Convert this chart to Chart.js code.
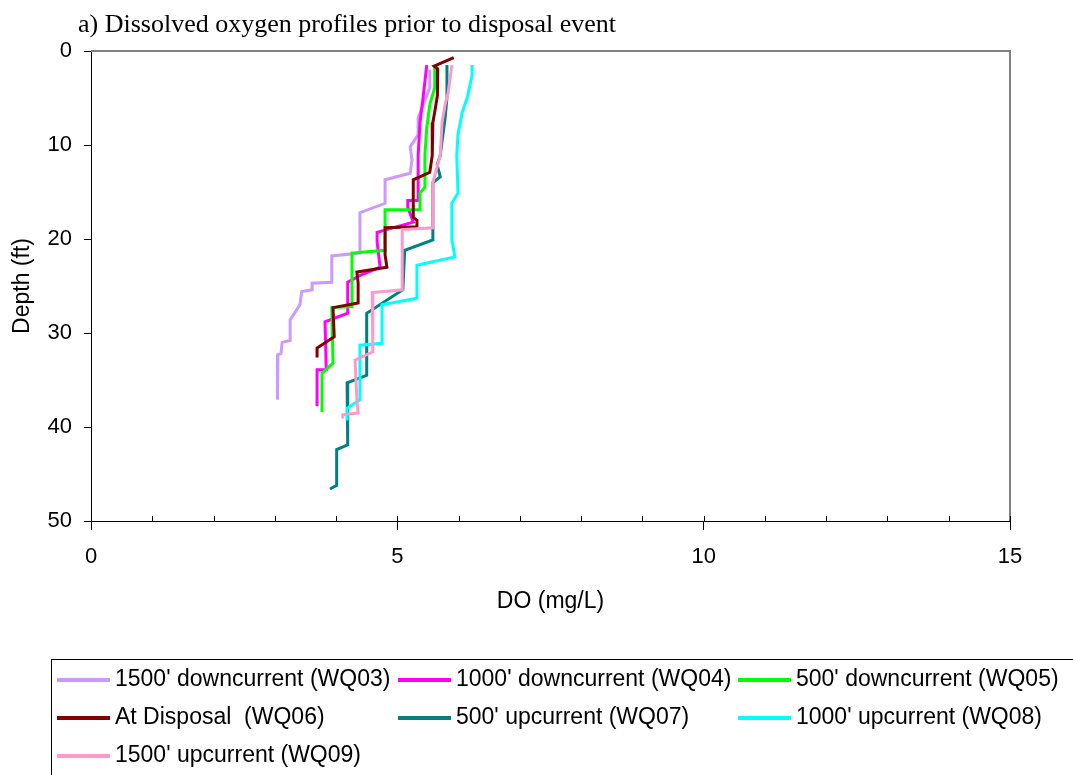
<!DOCTYPE html>
<html>
<head>
<meta charset="utf-8">
<title>Dissolved oxygen profiles</title>
<script src="https://cdn.jsdelivr.net/npm/chart.js@4/dist/chart.umd.min.js"></script>
<style>
  html, body { margin: 0; padding: 0; background: #fff; }
  #wrap { width: 1073px; height: 775px; }
</style>
</head>
<body>
<div id="wrap"><canvas id="do-chart" width="1073" height="775"></canvas></div>
<script>
// Eixos
const xTicks = [0, 5, 10, 15];
const yTicks = [0, 10, 20, 30, 40, 50];

// Perfis: DO (mg/L) e profundidade (ft)
const wq03Do    = [5.53, 5.53, 5.34, 5.34, 5.21, 5.24, 5.21, 4.80, 4.80, 4.39, 4.39, 3.93, 3.93, 3.61, 3.61, 3.44, 3.41, 3.25, 3.25, 3.12, 3.10, 3.05, 3.05, 3.04, 3.04];
const wq03Depth = [2.0, 3.9, 7.1, 8.9, 10.2, 11.6, 13.0, 13.7, 16.2, 17.2, 21.5, 21.8, 24.6, 24.7, 25.4, 25.6, 27.0, 28.6, 30.8, 31.0, 32.2, 32.3, 35.0, 35.2, 37.1];

const wq04Do    = [5.48, 5.42, 5.37, 5.34, 5.34, 5.17, 5.17, 5.26, 4.67, 4.67, 4.72, 4.42, 4.19, 4.19, 3.82, 3.84, 3.69, 3.69];
const wq04Depth = [1.5, 5.0, 7.6, 11.1, 15.9, 15.9, 16.6, 18.2, 19.3, 20.3, 23.0, 23.8, 24.6, 27.9, 28.8, 33.9, 33.9, 37.8];

const wq05Do    = [5.61, 5.61, 5.53, 5.48, 5.45, 5.45, 5.37, 5.37, 4.80, 4.80, 4.26, 4.26, 3.93, 3.95, 3.77, 3.77];
const wq05Depth = [1.7, 3.9, 5.7, 8.2, 11.1, 14.5, 15.1, 16.9, 16.9, 21.2, 21.5, 27.2, 27.3, 33.2, 34.3, 38.4];

const wq06Do    = [5.92, 5.60, 5.66, 5.66, 5.65, 5.61, 5.58, 5.57, 5.53, 5.26, 5.26, 5.32, 5.32, 4.80, 4.80, 4.83, 4.34, 4.36, 4.36, 3.95, 3.97, 3.69, 3.69];
const wq06Depth = [0.7, 1.6, 1.9, 3.9, 4.7, 6.5, 7.6, 11.1, 12.9, 13.7, 17.7, 18.0, 18.7, 18.8, 21.7, 23.0, 23.5, 24.7, 26.8, 27.3, 30.4, 31.6, 32.6];

const wq07Do    = [5.81, 5.81, 5.78, 5.70, 5.65, 5.70, 5.58, 5.58, 5.12, 5.09, 4.50, 4.50, 4.18, 4.19, 4.01, 4.01, 3.90];
const wq07Depth = [1.5, 5.0, 7.1, 11.1, 12.1, 13.4, 14.0, 20.1, 21.2, 25.4, 27.9, 34.5, 35.3, 41.9, 42.4, 46.2, 46.6];

const wq08Do    = [6.22, 6.22, 6.14, 6.06, 5.99, 5.97, 5.99, 5.89, 5.89, 5.94, 5.32, 5.32, 4.75, 4.75, 4.39, 4.39, 4.18, 4.18];
const wq08Depth = [1.5, 2.6, 5.0, 6.5, 8.9, 11.1, 15.1, 16.2, 20.1, 21.9, 22.8, 26.3, 27.0, 31.1, 31.3, 37.1, 38.0, 39.3];

const wq09Do    = [5.89, 5.83, 5.78, 5.73, 5.70, 5.65, 5.58, 5.58, 5.08, 5.08, 4.59, 4.60, 4.31, 4.34, 4.36, 4.11, 4.11];
const wq09Depth = [1.5, 4.4, 5.7, 7.6, 11.1, 12.3, 14.0, 18.8, 19.0, 25.4, 25.7, 32.0, 32.9, 37.1, 38.5, 38.7, 39.1];

const seriesNames = [
  "1500' downcurrent (WQ03)", "1000' downcurrent (WQ04)", "500' downcurrent (WQ05)",
  "At Disposal  (WQ06)", "500' upcurrent (WQ07)", "1000' upcurrent (WQ08)",
  "1500' upcurrent (WQ09)"
];
const seriesColors = ['#CC99FF', '#FF00FF', '#00FF00', '#800000', '#008080', '#00FFFF', '#FF99CC'];
const profiles = [
  [wq03Do, wq03Depth], [wq04Do, wq04Depth], [wq05Do, wq05Depth], [wq06Do, wq06Depth],
  [wq07Do, wq07Depth], [wq08Do, wq08Depth], [wq09Do, wq09Depth]
];

const SANS = '"Liberation Sans", Arial, sans-serif';
const SERIF = '"Liberation Serif", "Times New Roman", serif';

const datasets = profiles.map(([dox, dep], i) => ({
  label: seriesNames[i],
  data: dox.map((v, k) => ({ x: v, y: dep[k] })),
  borderColor: seriesColors[i],
  backgroundColor: seriesColors[i],
  borderWidth: 3,
  pointRadius: 0,
  showLine: true,
  tension: 0,
  order: -i // a última série fica por cima, como no Excel
}));

// Moldura, marcas menores, título e legenda
const decor = {
  id: 'decor',
  beforeDatasetsDraw(chart) {
    const { ctx, chartArea: a } = chart;
    ctx.save();
    ctx.strokeStyle = '#808080';
    ctx.lineWidth = 2;
    ctx.beginPath();
    ctx.moveTo(a.left, a.top);
    ctx.lineTo(a.right, a.top);
    ctx.lineTo(a.right, a.bottom);
    ctx.stroke();
    ctx.restore();
  },
  afterDraw(chart) {
    const { ctx, chartArea: a } = chart;
    const xs = chart.scales.x;
    ctx.save();
    // marcas internas a cada 1 mg/L
    ctx.strokeStyle = '#000';
    ctx.lineWidth = 1;
    for (let v = xs.min; v <= xs.max; v++) {
      const px = Math.round(xs.getPixelForValue(v)) + 0.5;
      ctx.beginPath();
      ctx.moveTo(px, a.bottom - 5);
      ctx.lineTo(px, a.bottom);
      ctx.stroke();
    }
    // título
    ctx.fillStyle = '#000';
    ctx.font = '26px ' + SERIF;
    ctx.textBaseline = 'alphabetic';
    ctx.textAlign = 'left';
    ctx.fillText('a) Dissolved oxygen profiles prior to disposal event', 78, 32);
    // legenda
    ctx.strokeStyle = '#000';
    ctx.strokeRect(51.5, 659.5, 1100, 200);
    const colX = [57, 398, 738];
    ctx.font = '23px ' + SANS;
    ctx.textBaseline = 'middle';
    chart.data.datasets.forEach((ds, i) => {
      const x = colX[i % 3];
      const y = 680 + Math.floor(i / 3) * 38;
      ctx.strokeStyle = ds.borderColor;
      ctx.lineWidth = 4;
      ctx.beginPath();
      ctx.moveTo(x, y);
      ctx.lineTo(x + 53, y);
      ctx.stroke();
      ctx.fillStyle = '#000';
      ctx.fillText(ds.label, x + 58, y);
    });
    ctx.restore();
  }
};

new Chart(document.getElementById('do-chart'), {
  type: 'scatter',
  data: { datasets },
  options: {
    responsive: false,
    animation: false,
    layout: { padding: { top: 51, right: 63, bottom: 160, left: 0 } },
    plugins: { legend: { display: false }, tooltip: { enabled: false } },
    scales: {
      x: {
        type: 'linear', min: 0, max: 15,
        afterBuildTicks: s => { s.ticks = xTicks.map(v => ({ value: v })); },
        afterFit: s => { s.height = 94; },
        ticks: { color: '#000', font: { family: SANS, size: 22 }, padding: 14, maxRotation: 0 },
        grid: { drawOnChartArea: false, tickLength: 9, color: '#000' },
        border: { color: '#000', width: 1 },
        title: { display: true, text: 'DO (mg/L)', color: '#000', font: { family: SANS, size: 23 }, padding: { top: 0, bottom: 0 } }
      },
      y: {
        type: 'linear', reverse: true, min: 0, max: 50,
        afterBuildTicks: s => { s.ticks = yTicks.map(v => ({ value: v })); },
        afterFit: s => { s.width = 91; },
        ticks: { color: '#000', font: { family: SANS, size: 22 }, padding: 12 },
        grid: { drawOnChartArea: false, tickLength: 7, color: '#000' },
        border: { color: '#000', width: 1 },
        title: { display: true, text: 'Depth (ft)', color: '#000', font: { family: SANS, size: 23 }, padding: { top: 9, bottom: 0 } }
      }
    }
  },
  plugins: [decor]
});
</script>
</body>
</html>
